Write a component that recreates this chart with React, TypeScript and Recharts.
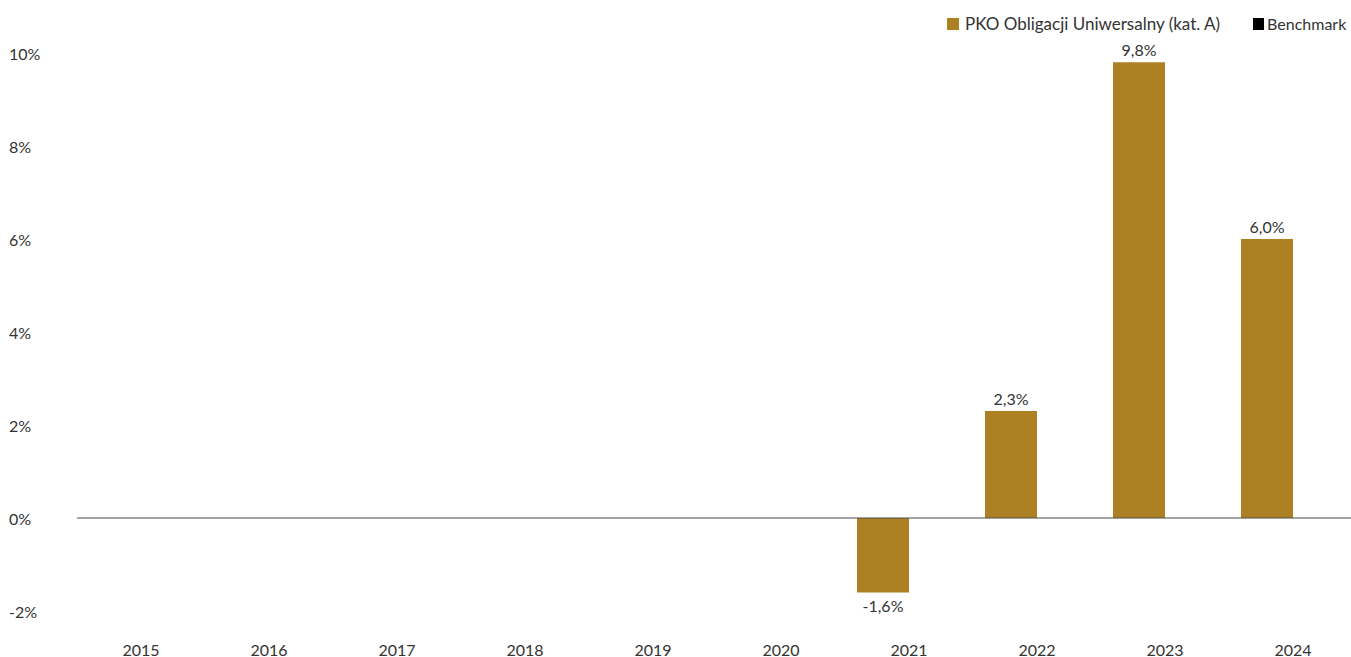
import React from 'react';
import { BarChart, Bar, XAxis, YAxis, ReferenceLine, LabelList } from 'recharts';

const years = ['2015', '2016', '2017', '2018', '2019', '2020', '2021', '2022', '2023', '2024'];
const pkoValues = [null, null, null, null, null, null, -1.6, 2.3, 9.8, 6.0];
const benchmarkValues = [null, null, null, null, null, null, null, null, null, null];
const yTicks = [-2, 0, 2, 4, 6, 8, 10];

const data = years.map((year, i) => ({
  year,
  pko: pkoValues[i],
  benchmark: benchmarkValues[i],
}));

const GOLD = '#ad8123';
const TEXT = '#333333';
const FONT = 'Lato, "Open Sans", sans-serif';

const fmt = (v: number) => v.toFixed(1).replace('.', ',') + '%';

const YTick = (props: any) => {
  const { y, payload } = props;
  return (
    <text x={9} y={y} dominantBaseline="central" textAnchor="start" fill={TEXT} fontSize={16} fontFamily={FONT}>
      {payload.value}%
    </text>
  );
};

const XTick = (props: any) => {
  const { x, payload } = props;
  return (
    <text x={x} y={649} dominantBaseline="central" textAnchor="middle" fill={TEXT} fontSize={16} fontFamily={FONT}>
      {payload.value}
    </text>
  );
};

const BarLabel = (props: any) => {
  const { x, y, width, height, value } = props;
  if (value === null || value === undefined) return null;
  const top = Math.min(y, y + height);
  const bottom = Math.max(y, y + height);
  const ly = value >= 0 ? top - 13 : bottom + 13;
  return (
    <text x={x + width / 2} y={ly} dominantBaseline="central" textAnchor="middle" fill={TEXT} fontSize={16} fontFamily={FONT}>
      {fmt(value)}
    </text>
  );
};

export default function App() {
  return (
    <div style={{ position: 'absolute', left: 0, top: 0, width: 1351, height: 657, overflow: 'hidden', background: '#fff' }}>
      <div
        style={{
          position: 'absolute',
          top: 13,
          left: 947,
          display: 'flex',
          alignItems: 'center',
          fontFamily: FONT,
          fontSize: 17,
          color: TEXT,
          whiteSpace: 'nowrap',
        }}
      >
        <span style={{ width: 12, height: 12, background: GOLD, display: 'inline-block', marginRight: 6 }} />
        <span>PKO Obligacji Uniwersalny (kat. A)</span>
        <span style={{ width: 11, height: 12, background: '#000', display: 'inline-block', marginLeft: 33, marginRight: 3 }} />
        <span style={{ fontSize: 16 }}>Benchmark</span>
      </div>
      <BarChart
        width={1360}
        height={657}
        data={data}
        margin={{ top: 53, right: 3, left: 0, bottom: 0 }}
        barGap={0}
        barCategoryGap={12}
      >
        <XAxis dataKey="year" axisLine={false} tickLine={false} height={46} tick={<XTick />} interval={0} />
        <YAxis
          width={77}
          domain={[-2, 10]}
          ticks={yTicks}
          axisLine={false}
          tickLine={false}
          tick={<YTick />}
          interval={0}
        />
        <ReferenceLine y={0} stroke="#4a4a4a" strokeWidth={1.2} />
        <Bar dataKey="pko" fill={GOLD} barSize={52} isAnimationActive={false}>
          <LabelList dataKey="pko" content={<BarLabel />} />
        </Bar>
        <Bar dataKey="benchmark" fill="#000" barSize={52} isAnimationActive={false} />
      </BarChart>
    </div>
  );
}
